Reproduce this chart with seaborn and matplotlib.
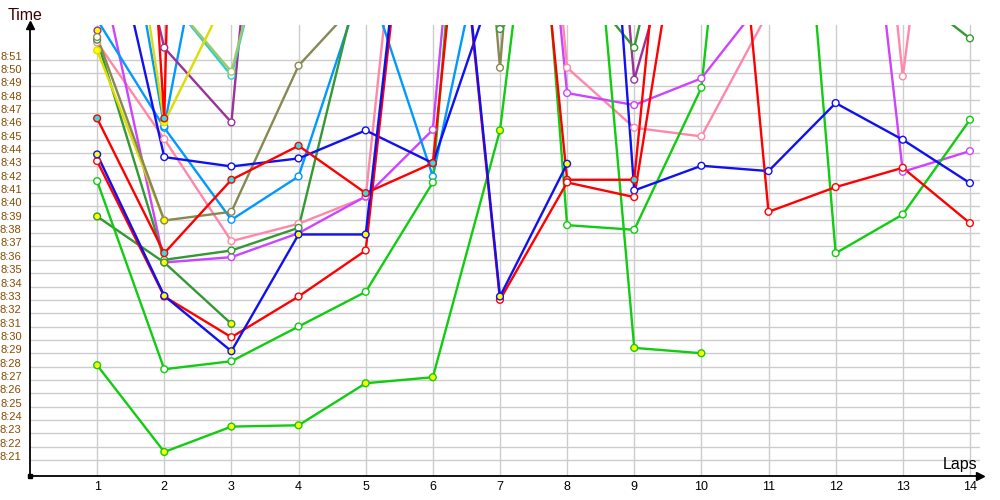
import numpy as np
import matplotlib
matplotlib.use("Agg")
import matplotlib.pyplot as plt
import matplotlib.transforms as mtransforms
import seaborn as sns

# Lap times in seconds past 8:00 (values above ~53.6 run off the top of the chart)
laps = list(range(1, 15))

blue_a = [43.9, 33.3, 29.15, 37.9, 37.9, 82.5, 33.25, 43.2]
blue_a_fill = "yyyyyyyy"
blue_b = [65.8, 43.7, 43.0, 43.6, 45.7, 43.25, 58, 110, 41.2, 43.05, 42.65, 47.75, 45.0, 41.75]
blue_b_fill = "wwwwwwwwwwwwww"

red_a = [46.6, 36.5, 42.0, 44.55, 41.0, 43.25, 92.5, 42.0, 42.0, 93, 39.6, 41.45, 42.9, 38.75]
red_a_fill = "cccccccccwwwww"
red_b = [43.4, 33.25, 30.2, 33.25, 36.7, 82, 33.0, 41.8, 40.7, 72]
red_b_fill = "wwwwwwwwww"
red_c = [124.5, 46.6, 250]
red_c_fill = "wcw"

purple = [59, 35.8, 36.2, 38.0, 40.75, 45.75, 100, 48.5, 47.6, 49.6, 56, 87, 42.6, 44.15]
purple_fill = "wwwwwwwwwwwwww"
pink = [52.3, 45.05, 37.4, 38.7, 40.7, 88, 105, 50.4, 45.9, 45.25, 54.6, 98, 49.75, 88]
pink_fill = "wwwwwwwwwwwwww"

lightblue_a = [54, 45.9, 39.0, 42.25, 57.5, 42.25, 66]
lightblue_a_fill = "wwwwwww"
lightblue_b = [74.6, 46.0, 72]
lightblue_b_fill = "www"

yellow_a = [51.7, 38.95]
yellow_a_fill = "yy"
yellow_b = [80, 46.3, 56.5]
yellow_b_fill = "yyy"
olive = [52.7, 38.95, 39.6, 50.55, 56, 110, 50.4, 110]
olive_fill = "wywwwwww"

dkgreen_a = [39.25, 35.8, 31.2]
dkgreen_a_fill = "yyy"
dkgreen_b = [52.5, 36.0, 36.7, 38.4, 59, 110, 53.3, 58, 51.9, 73.5, 75, 75, 56.5, 52.6]
dkgreen_b_fill = "wwwwwwwwwwwwww"

green_a = [28.1, 21.6, 23.5, 23.6, 26.75, 27.2, 45.7, 86.5, 29.4, 29.0]
green_a_fill = "yyyyyyyyyy"
green_b = [41.9, 27.8, 28.4, 31.0, 33.6, 41.8, 104, 38.6, 38.25, 48.9, 97, 36.5, 39.4, 46.5]
green_b_fill = "wwwwwwwwwwwwww"

dkpurple_a = [73, 51.9, 46.3, 100, 105, 110, 110, 108, 49.5, 67]
dkpurple_a_fill = "wwwwwwwwww"
dkpurple_b = [53.2]
dkpurple_b_fill = "y"

ltgreen = [None, 56, 50.1, 69.8]
ltgreen_fill = "wwww"
cyan = [None, 56, 49.8, 70]
cyan_fill = "wwww"

y_ticks = list(range(21, 52))
y_labels = ["8:%02d" % v for v in y_ticks]

fill_colors = {"w": "white", "y": "#FFFF00", "c": "#33DDDD"}

# drawing order: later series sit on top
series = [
    (pink, pink_fill, "#FF88AA"),
    (purple, purple_fill, "#CC44FF"),
    (lightblue_a, lightblue_a_fill, "#0099FF"),
    (lightblue_b, lightblue_b_fill, "#0099FF"),
    (dkpurple_a, dkpurple_a_fill, "#993399"),
    (dkpurple_b, dkpurple_b_fill, "#993399"),
    (cyan, cyan_fill, "#33CCCC"),
    (ltgreen, ltgreen_fill, "#99CC66"),
    (yellow_b, yellow_b_fill, "#DDDD00"),
    (dkgreen_b, dkgreen_b_fill, "#339933"),
    (yellow_a, yellow_a_fill, "#DDDD00"),
    (olive, olive_fill, "#888855"),
    (dkgreen_a, dkgreen_a_fill, "#339933"),
    (green_b, green_b_fill, "#11CC11"),
    (green_a, green_a_fill, "#11CC11"),
    (blue_b, blue_b_fill, "#1010F0"),
    (red_a, red_a_fill, "#FF0000"),
    (red_c, red_c_fill, "#FF0000"),
    (red_b, red_b_fill, "#FF0000"),
    (blue_a, blue_a_fill, "#1010F0"),
]

sns.set_style("white")
plt.rcParams["font.family"] = ["Liberation Sans", "DejaVu Sans"]

fig = plt.figure(figsize=(10, 5), dpi=100)
ax = fig.add_axes([0.03, 0.0486, 0.95, 0.9014])

for vals, fills, col in series:
    lx = [laps[i] for i, v in enumerate(vals) if v is not None]
    ly = [v for v in vals if v is not None]
    lf = [fills[i] for i, v in enumerate(vals) if v is not None]
    sns.lineplot(x=lx, y=ly, color=col, linewidth=1.7, sort=False,
                 estimator=None, ax=ax, zorder=2)
    sns.scatterplot(x=lx, y=ly, hue=lf, palette=fill_colors, edgecolor=col,
                    linewidth=1.0, s=24, legend=False, ax=ax, zorder=3)

ax.set_xlim(0, 14.15)
ax.set_ylim(19.82, 53.6)
ax.set_xticks(laps)
ax.set_xticklabels([str(l) for l in laps], fontsize=9, color="black")
ax.set_yticks(y_ticks)
ax.set_yticklabels(y_labels, fontsize=8, color="#8B4A00")
ax.tick_params(axis="both", length=0)
ax.tick_params(axis="y", pad=6)
ax.tick_params(axis="x", pad=4)
offset = mtransforms.ScaledTranslation(0, 0.04, fig.dpi_scale_trans)
for lab in ax.get_yticklabels():
    lab.set_transform(lab.get_transform() + offset)

ax.grid(True, color="#CCCCCC", linewidth=1.0)
ax.set_axisbelow(True)
for side in ["top", "right"]:
    ax.spines[side].set_visible(False)
for side in ["left", "bottom"]:
    ax.spines[side].set_color("black")
    ax.spines[side].set_linewidth(1.3)

# axis arrows and origin square
ax.plot(0, 1, marker="^", color="black", ms=6, transform=ax.transAxes, clip_on=False)
ax.plot(1, 0, marker=">", color="black", ms=6, transform=ax.transAxes, clip_on=False)
ax.plot(0, 0, marker="s", color="black", ms=3.5, transform=ax.transAxes, clip_on=False)

fig.text(0.008, 0.97, "Time", fontsize=11.5, va="center", ha="left", color="#3A0000")
fig.text(0.943, 0.072, "Laps", fontsize=11.5, va="center", ha="left", color="black")

fig.savefig("out.png", dpi=100)
